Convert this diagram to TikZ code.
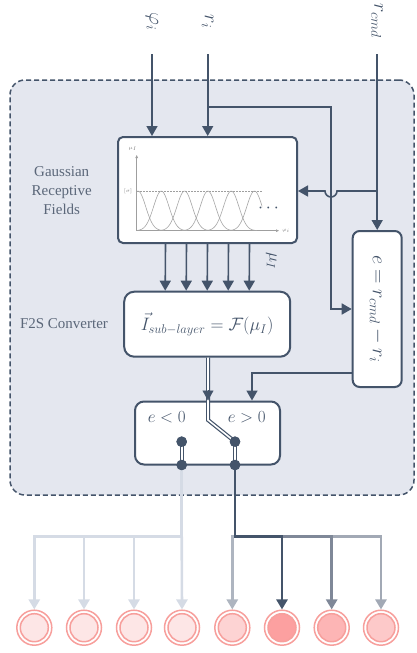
\RequirePackage{fix-cm}
\documentclass[tikz,border=0pt]{standalone}
\usepackage{amsmath}
\usepackage{fontspec}
\setmainfont{Liberation Serif}
\usetikzlibrary{arrows.meta}
\definecolor{dk}{HTML}{44546A}
\definecolor{bg}{HTML}{E4E7EF}
\definecolor{tg}{HTML}{5B6779}
\definecolor{lt}{HTML}{D5DBE5}
\definecolor{ga}{HTML}{AEB5C0}
\definecolor{gb}{HTML}{7F8898}
\definecolor{gc}{HTML}{A2A9B5}
\definecolor{pk}{HTML}{F79F9C}
\definecolor{pa}{HTML}{FDE6E6}
\definecolor{pb}{HTML}{FDD3D3}
\definecolor{pc}{HTML}{FCA0A0}
\definecolor{pd}{HTML}{FDB5B5}
\definecolor{pe}{HTML}{FDC9C9}
\begin{document}
\begin{tikzpicture}[x=1pt,y=-1pt,
  tip/.style={-{Triangle[length=10pt,width=11pt]}},
  ln/.style={dk, line width=1.6pt},
  wbox/.style={draw=dk, line width=2pt, fill=white, inner sep=0pt},
  mth/.style={text=dk, font=\fontsize{20}{22}\selectfont, inner sep=0pt},
  lab/.style={text=tg, font=\fontsize{15}{19}\selectfont, align=center},
  dot/.style={circle, fill=dk, minimum size=10.5pt, inner sep=0pt},
  dbl/.style={dk, line width=1.2pt, double=white, double distance=1.6pt},
  low/.style={line width=2.6pt},
  outc/.style={circle, draw=pk, line width=1.5pt, fill=white, minimum size=35pt, inner sep=0pt},
  inc/.style={circle, draw=pk, line width=1.5pt, minimum size=28pt, inner sep=0pt}]
\useasboundingbox (0,0) rectangle (416,653);

% container
\node[draw=dk, line width=1.5pt, dash pattern=on 5pt off 3pt, fill=bg, rounded corners=15pt,
      minimum width=404pt, minimum height=415pt, inner sep=0pt] (cont) at (212,287.5) {};

% input labels
\node[mth, rotate=-90] (phi) at (152,22) {$\varphi_i$};
\node[mth, rotate=-90] (ri) at (207.7,22) {$r_i$};
\node[mth, rotate=-90] (rcmd) at (377.2,21) {$r_{cmd}$};
\coordinate (phis) at (152,54);
\coordinate (ris) at (207.7,54);
\coordinate (rcs) at (377.2,54);

% boxes
\node[wbox, rounded corners=5pt, minimum width=179pt, minimum height=106pt] (grf) at (207.5,190) {};
\node[wbox, rounded corners=10pt, minimum width=166pt, minimum height=65pt, text=dk,
      font=\fontsize{18}{20}\selectfont] (f2s) at (207.2,324.2) {$\vec{I}_{sub-layer}=\mathcal{F}(\mu_I)$};
\node[wbox, rounded corners=7pt, minimum width=49pt, minimum height=156pt] (ebox) at (377.2,309) {};
\node[mth, rotate=-90] (etxt) at (ebox.center) {$e=r_{cmd}-r_i$};
\node[wbox, rounded corners=9pt, minimum width=145pt, minimum height=63pt] (sw) at (207.5,433) {};

% side labels
\node[lab] (glab) at (61.7,191) {Gaussian\\Receptive\\Fields};
\node[lab] (flab) at (64,324) {F2S Converter};

% plot inside receptive field box
\begin{scope}[gray!75, line width=0.5pt]
  \coordinate (o) at (136.7,230.7);
  \coordinate (ya) at (136.7,155);
  \coordinate (xa) at (279,230.7);
  \draw[-{Triangle[length=3pt,width=2.5pt]}] (o) -- (ya);
  \draw[-{Triangle[length=3pt,width=2.5pt]}] (o) -- (xa);
  \node[font=\fontsize{5}{6}\selectfont, text=gray] (mul) at (132.7,149) {$\mu_I$};
  \node[font=\fontsize{5}{6}\selectfont, text=gray] (phl) at (286,231) {$\varphi_i$};
  \node[font=\fontsize{5}{6}\selectfont, text=gray] (sgl) at (128,191) {$[\sigma]$};
  \draw[dashed, dash pattern=on 2pt off 1pt] (137,191) -- (262,191);
  \begin{scope}
    \clip (137,150) rectangle (262,231);
    \foreach \c in {138,161.3,184.6,207.9,231.2,254.5}{
      \draw[gray!70, line width=0.6pt, domain=\c-26:\c+26, samples=50]
        plot (\x, {230.7-39.7*exp(-((\x-\c)*(\x-\c))/118.6)});
    }
  \end{scope}
  \node[text=dk, font=\fontsize{18}{18}\selectfont, inner sep=0pt] (dots) at (270,208) {$\cdots$};
\end{scope}

% input arrows
\draw[ln, tip] (phis) -- (phis |- grf.north);
\draw[ln, tip] (ris) -- (ris |- grf.north);
\draw[ln, tip] (rcs) -- (ebox.north);
\coordinate (rib) at (207.7,107);
\coordinate (jx) at (331,107);
\draw[ln, tip] (rib) -- (jx) |- (ebox.west);
\coordinate (rcb) at (377.2,191);
\coordinate (hop) at (337,191);
\draw[ln, tip] (rcb) -- (hop) arc (0:180:6) -- (grf.east |- rcb);

% mu arrows
\foreach \dx in {-42,-21,0,21,42}{
  \draw[ln, tip] ([xshift=\dx pt]grf.south) -- ([xshift=\dx pt]f2s.north);
}
\node[mth, rotate=-90, font=\fontsize{17}{18}\selectfont] (mulab) at (271.5,261) {$\mu_I$};

% e output to switch
\draw[ln, tip] ([yshift=-64pt]ebox.west) -| ([xshift=44.5pt]sw.north);

% switch
\node[mth, font=\fontsize{17}{18}\selectfont] (eneg) at (166.7,417) {$e<0$};
\node[mth, font=\fontsize{17}{18}\selectfont] (epos) at (246.7,417) {$e>0$};
\coordinate (swk) at (208,420);
\node[dot] (d1) at (181.7,441.7) {};
\node[dot] (d2) at (235,441.7) {};
\node[dot] (d3) at (181.7,465) {};
\node[dot] (d4) at (235,465) {};
\draw[dbl] (f2s.south -| swk) -- (swk) -- (d2.center);
\draw[dk, line width=0.5pt, tip] (208,390) -- (sw.north -| swk);
\draw[dbl] (d1.center) -- (d3.center);
\draw[dbl] (d2.center) -- (d4.center);
\node[dot] at (d1) {};
\node[dot] at (d2) {};

% output circles
\foreach \n/\x/\f in {1/34.3/pa,2/84/pa,3/134/pa,4/182/pa,5/232.3/pb,6/282/pc,7/331.7/pd,8/381/pe}{
  \node[outc] (c\n) at (\x,627.7) {};
  \node[inc, fill=\f] (ci\n) at (c\n) {};
}

% left (light) branch
\coordinate (hl) at (181.7,536.7);
\draw[lt, low] (d3) -- (hl);
\draw[lt, low, tip] (hl) -| (c1.north);
\draw[lt, low, tip] (hl) -| (c2.north);
\draw[lt, low, tip] (hl) -| (c3.north);
\draw[lt, low, tip] (hl) -- (c4.north);
\node[dot] at (d3) {};

% right (dark) branch
\coordinate (hr) at (235,536.7);
\draw[ga, low, tip] (hr) -| (c5.north);
\draw[gc, low, tip] (c7.north |- hr) -| (c8.north);
\draw[gb, low, tip] (c6.north |- hr) -| (c7.north);
\draw[dk, low, tip] (d4) -- (hr) -| (c6.north);
\node[dot] at (d4) {};
\end{tikzpicture}
\end{document}
